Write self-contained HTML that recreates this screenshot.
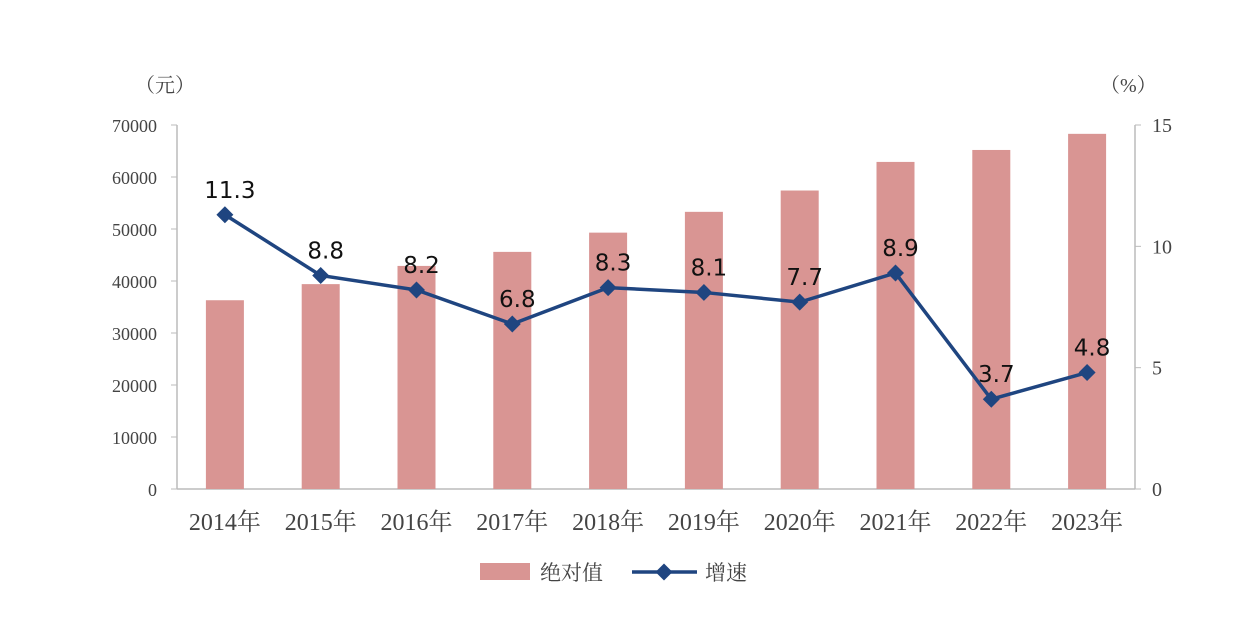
<!DOCTYPE html>
<html><head><meta charset="utf-8"><style>
body{margin:0;background:#fff;}
</style></head><body>
<svg width="1256" height="636" id="chart" xmlns="http://www.w3.org/2000/svg" font-family="Liberation Serif, Noto Serif CJK SC, serif">
<rect width="1256" height="636" fill="#fff"/>
<g id="axes"></g><g id="bars"></g><g id="line"></g><g id="labels"></g>
<text x="135" y="92" font-size="20" fill="#444">（元）</text>
<text x="1100" y="92" font-size="20" fill="#444">（%）</text>
<g>
<rect x="480" y="563" width="50" height="17" fill="#d99593"/>
<text x="540" y="580" font-size="21" fill="#444">绝对值</text>
<line x1="632" y1="572" x2="697" y2="572" stroke="#1f4580" stroke-width="3.5"/>
<rect x="658" y="566" width="12" height="12" fill="#1f4580" transform="rotate(45 664 572)"/>
<text x="705" y="580" font-size="21" fill="#444">增速</text>
</g>
</svg>
<script>
const years=["2014年","2015年","2016年","2017年","2018年","2019年","2020年","2021年","2022年","2023年"];
const absValues=[36300,39400,42900,45600,49300,53300,57400,62900,65200,68300];
const growth=[11.3,8.8,8.2,6.8,8.3,8.1,7.7,8.9,3.7,4.8];
const leftTicks=[0,10000,20000,30000,40000,50000,60000,70000];
const rightTicks=[0,5,10,15];
const NS="http://www.w3.org/2000/svg";
const x0=177,x1=1135,yb=489,yt=125;
const yL=v=>yb-(v/70000)*(yb-yt);
const yR=v=>yb-(v/15)*(yb-yt);
const step=(x1-x0)/years.length;
const xC=i=>x0+step*(i+0.5);
function mk(tag,attrs,parent,txt){const e=document.createElementNS(NS,tag);for(const k in attrs)e.setAttribute(k,attrs[k]);if(txt!==undefined)e.textContent=txt;document.getElementById(parent).appendChild(e);return e;}
let e;
e=mk('line',{x1:x0,y1:yt,x2:x0,y2:yb,stroke:'#bbb','stroke-width':1.5},'axes');


e=mk('line',{x1:x1,y1:yt,x2:x1,y2:yb,stroke:'#bbb','stroke-width':1.5},'axes');


e=mk('line',{x1:x0,y1:yb,x2:x1,y2:yb,stroke:'#bbb','stroke-width':1.5},'axes');


leftTicks.forEach(t=>{
 mk('line',{x1:x0-6,y1:yL(t),x2:x0,y2:yL(t),stroke:'#bbb'},'axes');
 e=mk('text',{x:157,y:yL(t)+7,'font-size':18,fill:'#444','text-anchor':'end'},'axes',String(t));
 
 
});
rightTicks.forEach(t=>{
 mk('line',{x1:x1,y1:yR(t),x2:x1+6,y2:yR(t),stroke:'#bbb'},'axes');
 e=mk('text',{x:1152,y:yR(t)+7,'font-size':20,fill:'#444'},'axes',String(t));
 
 
});
years.forEach((y,i)=>{
 e=mk('text',{x:xC(i),y:530,'font-size':24,fill:'#444','text-anchor':'middle'},'axes',y);
 
 
 e=mk('rect',{x:xC(i)-19,y:yL(absValues[i]),width:38,height:yb-yL(absValues[i]),fill:'#d99593'},'bars');
 
 
});
e=mk('polyline',{points:growth.map((g,i)=>xC(i)+','+yR(g)).join(' '),fill:'none',stroke:'#1f4580','stroke-width':3.5},'line');


growth.forEach((g,i)=>{
 e=mk('rect',{x:xC(i)-6,y:yR(g)-6,width:12,height:12,fill:'#1f4580',transform:`rotate(45 ${xC(i)} ${yR(g)})`},'line');
 
 
 e=mk('text',{x:xC(i)+5,y:yR(g)-17,'font-size':23,fill:'#111','text-anchor':'middle',style:'font-family:"DejaVu Sans",sans-serif'},'labels',g.toFixed(1));
 
 
});
</script>
</body></html>
